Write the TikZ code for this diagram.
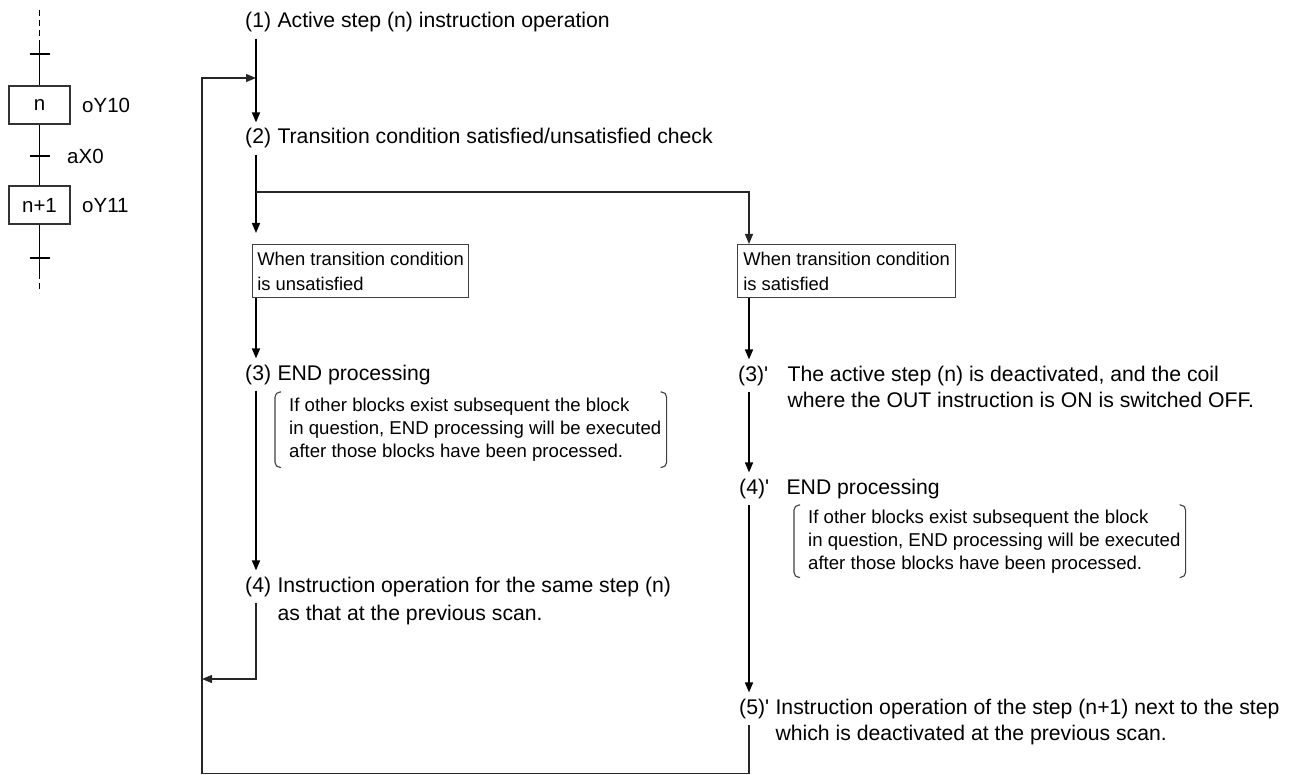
\documentclass[tikz,border=0pt]{standalone}
\usepackage{fontspec}
\setmainfont{Liberation Sans}
\usetikzlibrary{arrows.meta,calc}

\tikzset{
  txt/.style={font=\fontsize{21.2}{27}\selectfont,inner sep=0pt,anchor=base west},
  num/.style={txt,inner ysep=6pt},
  cond/.style={draw=black!75,line width=1.2pt,font=\fontsize{18.4}{25}\selectfont,minimum width=216pt,inner sep=3pt,minimum height=53pt,align=left,anchor=north west},
  note/.style={font=\fontsize{18.6}{23}\selectfont,inner sep=0pt,align=left,anchor=north west},
  brk/.style={draw=black!75,line width=1.1pt,rounded corners=5pt},
  flow/.style={->,line width=1.6pt},
  thinln/.style={black!85,line width=1.2pt},
  sfc/.style={draw=black!80,line width=1.2pt,minimum width=61pt,minimum height=38pt,font=\fontsize{20.5}{24}\selectfont},
  lbl/.style={font=\fontsize{20.5}{24}\selectfont,inner sep=0pt,anchor=west},
  sfcln/.style={line width=1.6pt},
  sfcdash/.style={line width=1pt,dash pattern=on 6pt off 4pt}
}

\begin{document}
\begin{tikzpicture}[x=1pt,y=-1pt,>={Triangle[length=10pt,width=8pt]}]
\useasboundingbox (0,0) rectangle (1297,775);

% SFC part
\node[sfc] (sn) at (39.5,105) {n};
\node[sfc] (sn1) at (39.5,205) {n+1};
\node[lbl] (yn) at (82,105) {oY10};
\node[lbl] (xa) at (67,156) {aX0};
\node[lbl] (yn1) at (82,206) {oY11};
\coordinate (gt) at (39.5,10);
\coordinate (g1) at (39.5,40);
\coordinate (g2) at (39.5,273);
\coordinate (gb) at (39.5,293);
\draw[sfcdash] (gt) -- (g1);
\draw[sfcln] (g1) -- (sn.north);
\draw[sfcln] (sn.south) -- (sn1.north);
\draw[sfcln] (sn1.south) -- (g2);
\draw[sfcdash] (g2) -- (gb);
\foreach \k in {54,156,258} \draw[sfcln] (29.5,\k) -- (49.5,\k);

% flow
\coordinate (ta) at (256,0);
\coordinate (tb) at (749,0);
\node[num] (l1) at (245,28) {(1)};
\node[txt] (t1) at ([xshift=6pt]l1.base east) {Active step (n) instruction operation};
\node[num] (l2) at (245,144) {(2)};
\node[txt] (t2) at ([xshift=6pt]l2.base east) {Transition condition satisfied/unsatisfied check};

\node[cond] (cu) at (252,244) {When transition condition\\is unsatisfied};
\node[cond,minimum width=218pt] (cs) at (737,244) {When transition condition\\is satisfied};

\node[num] (l3) at (245,380) {(3)};
\node[txt] (t3) at ([xshift=6pt]l3.base east) {END processing};
\node[note,minimum height=75pt] (n3) at (289,392) {If other blocks exist subsequent the block\\in question, END processing will be executed\\after those blocks have been processed.};
\node[num] (l4) at (245,592) {(4)};
\node[txt] (t4) at ([xshift=6pt]l4.base east) {Instruction operation for the same step (n)};
\node[txt] (t4b) at ([yshift=-28pt]t4.base west) {as that at the previous scan.};

\node[num] (l3p) at (738,381) {(3)\textquotesingle};
\node[txt] (t3p) at ([xshift=19pt]l3p.base east) {The active step (n) is deactivated, and the coil};
\node[txt] (t3pb) at ([yshift=-26pt]t3p.base west) {where the OUT instruction is ON is switched OFF.};
\node[num] (l4p) at (739,494) {(4)\textquotesingle};
\node[txt] (t4p) at ([xshift=17pt]l4p.base east) {END processing};
\node[note,minimum height=72pt] (n4p) at (808,505) {If other blocks exist subsequent the block\\in question, END processing will be executed\\after those blocks have been processed.};
\node[num] (l5p) at (739,714) {(5)\textquotesingle};
\node[txt] (t5p) at ([xshift=6pt]l5p.base east) {Instruction operation of the step (n+1) next to the step};
\node[txt] (t5pb) at ([yshift=-26pt]t5p.base west) {which is deactivated at the previous scan.};

% brackets
\foreach \nb in {n3,n4p}{
  \draw[brk] ([xshift=-8pt]\nb.north west) -- ([xshift=-14pt]\nb.north west) -- ([xshift=-14pt]\nb.south west) -- ([xshift=-8pt]\nb.south west);
  \draw[brk] ([xshift=-1pt]\nb.north east) -- ([xshift=5pt]\nb.north east) -- ([xshift=5pt]\nb.south east) -- ([xshift=-1pt]\nb.south east);
}

% connectors
\coordinate (jn) at (256,78);
\coordinate (br) at (256,192);
\coordinate (rt) at (202,679);
\coordinate (lb) at (202,773.5);
\draw[flow] (l1.south -| ta) -- (l2.north -| ta);
\draw[flow,shorten >=11pt] (l2.south -| ta) -- (cu.north -| ta);
\draw[thinln,->] (br) -| (cs.north -| tb);
\draw[flow] (cu.south -| ta) -- (l3.north -| ta);
\draw[flow] (l3.south -| ta) -- (l4.north -| ta);
\draw[thinln,->] (l4.south -| ta) |- (rt);
\draw[flow] (cs.south -| tb) -- (l3p.north -| tb);
\draw[flow] (l3p.south -| tb) -- (l4p.north -| tb);
\draw[flow] (l4p.south -| tb) -- (l5p.north -| tb);
\draw[thinln,->] (l5p.south -| tb) |- (lb) |- (jn);
\end{tikzpicture}
\end{document}
